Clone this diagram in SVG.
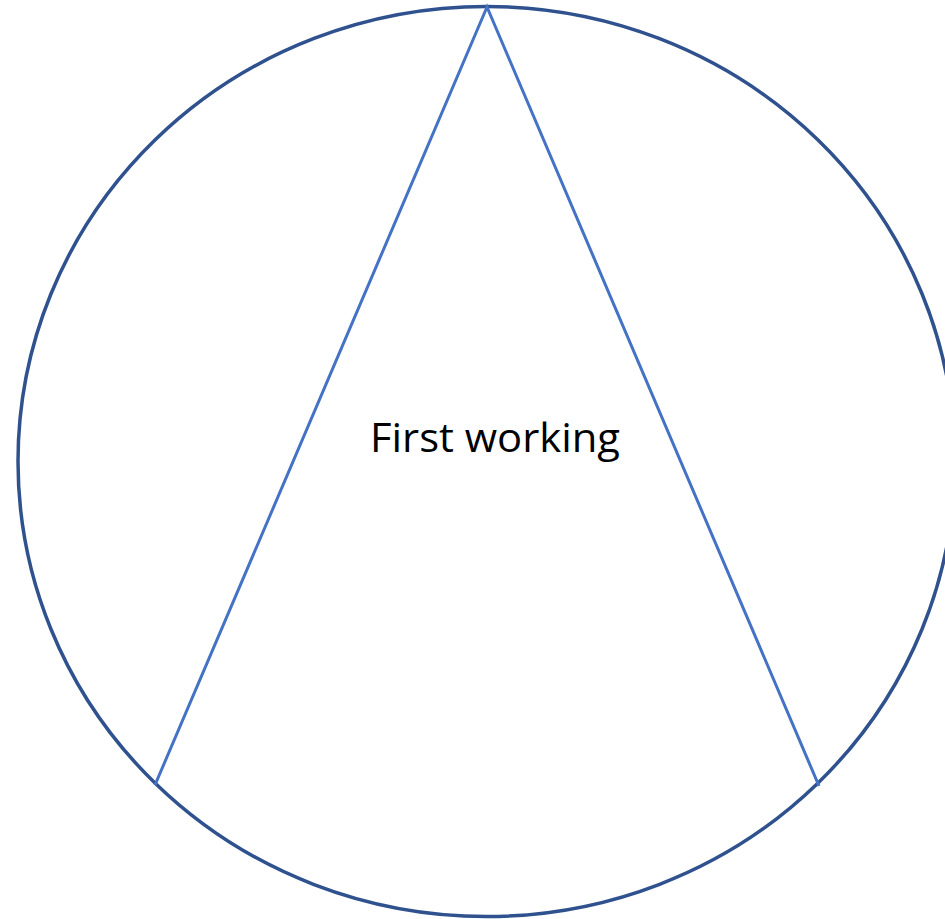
<svg xmlns="http://www.w3.org/2000/svg" width="945" height="919" viewBox="0 0 945 919">
<style>
.outer{fill:#fff;stroke:#2F528F;stroke-width:3.5}
.edge{fill:none;stroke:#4472C4;stroke-width:3}
.lbl{font-family:"Open Sans","Liberation Sans",sans-serif;font-size:40px;fill:#000}
</style>
<rect width="945" height="919" fill="#fff"/>
<g id="circle"><ellipse class="outer" cx="486.5" cy="461.5" rx="468.5" ry="455"/></g>
<g id="connectors">
<path class="edge" d="M155,785 L487,7 L819,786"/>
</g>
<g id="label"><text class="lbl" x="495" y="452" text-anchor="middle" textLength="250" lengthAdjust="spacingAndGlyphs">First working</text></g>
</svg>
